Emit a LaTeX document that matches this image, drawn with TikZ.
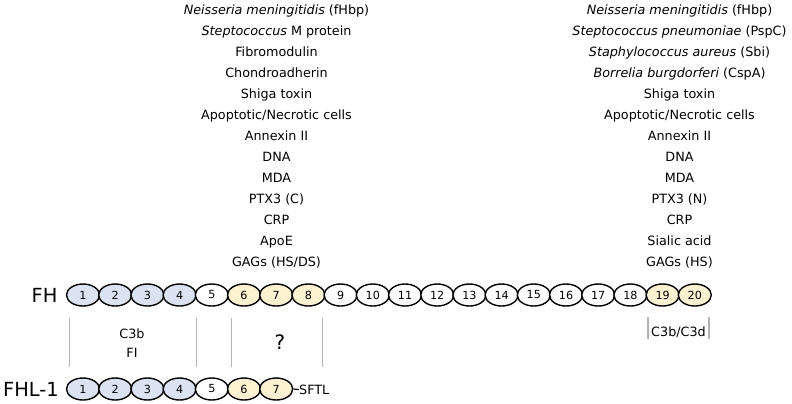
\documentclass[tikz,border=0pt]{standalone}
\usepackage{fontspec}
\setmainfont{DejaVu Sans}
\usepackage{tikz}
\usetikzlibrary{shapes.geometric}

\definecolor{ccpblue}{HTML}{DBE3F2}
\definecolor{ccpyellow}{HTML}{FCF2D2}
\definecolor{sepgray}{HTML}{B4B4B4}

\tikzset{
  ccp/.style={ellipse, draw, line width=1.4bp, minimum width=33bp, minimum height=22bp,
    inner sep=0pt, font=\fontsize{11.2}{11}\selectfont},
  ligand/.style={font=\fontsize{12.8}{14}\selectfont, text height=9.4bp, text depth=0pt, inner sep=0pt},
  sep/.style={sepgray, line width=1.1bp}
}

\begin{document}
\begin{tikzpicture}[x=1bp, y=-1bp]
      \useasboundingbox (0, 0) rectangle (792, 403);
      % ligands of the N-terminal part
      \foreach \t [count=\i] in {{\textit{Neisseria meningitidis} (fHbp)}, {\textit{Steptococcus} M protein},
          Fibromodulin, Chondroadherin, Shiga toxin, Apoptotic/Necrotic cells, Annexin II, DNA, MDA,
          PTX3 (C), CRP, ApoE, GAGs (HS/DS)} {
        \node[ligand] (l\i) at (276.5, {9.5 + 21*(\i-1)}) {\t};
      }
      % ligands of the C-terminal part
      \foreach \t [count=\i] in {{\textit{Neisseria meningitidis} (fHbp)}, {\textit{Steptococcus pneumoniae} (PspC)},
          {\textit{Staphylococcus aureus} (Sbi)}, {\textit{Borrelia burgdorferi} (CspA)}, Shiga toxin,
          Apoptotic/Necrotic cells, Annexin II, DNA, MDA, PTX3 (N), CRP, Sialic acid, GAGs (HS)} {
        \node[ligand] (r\i) at (679.5, {9.5 + 21*(\i-1)}) {\t};
      }
      % FH
      \node[font=\fontsize{19.5}{20}\selectfont] (fh) at (44.5, 295) {FH};
      \foreach \c [count=\i] in {ccpblue, ccpblue, ccpblue, ccpblue, white, ccpyellow, ccpyellow, ccpyellow,
          white, white, white, white, white, white, white, white, white, white, ccpyellow, ccpyellow} {
        \node[ccp, fill=\c] (fh\i) at ({83 + 32.2*(\i-1)}, 295) {\i};
      }
      % FHL-1
      \node[font=\fontsize{19.5}{20}\selectfont] (fhl) at (31, 389) {FHL-1};
      \foreach \c [count=\i] in {ccpblue, ccpblue, ccpblue, ccpblue, white, ccpyellow, ccpyellow} {
        \node[ccp, fill=\c] (fhl\i) at ({83 + 32.2*(\i-1)}, 389) {\i};
      }
      \node[ligand, anchor=west] (sftl) at (299, 389.5) {SFTL};
      \draw[line width=1.2bp] (fhl7.east) -- (sftl.west);
      % binding regions
      \foreach \x in {69.5, 196.5, 231.5, 322.5} {
        \draw[sep] (\x, 318) -- (\x, 367);
      }
      \foreach \x in {648, 709} {
        \draw[sep] (\x, 317) -- (\x, 339);
      }
      \node[ligand] (c3b) at (132, 334) {C3b};
      \node[ligand] (fi) at (132, 352.5) {FI};
      \node[font=\fontsize{20}{20}\selectfont] (unk) at (280, 342) {?};
      \node[ligand] (c3d) at (678.5, 332) {C3b/C3d};
    \end{tikzpicture}
\end{document}
